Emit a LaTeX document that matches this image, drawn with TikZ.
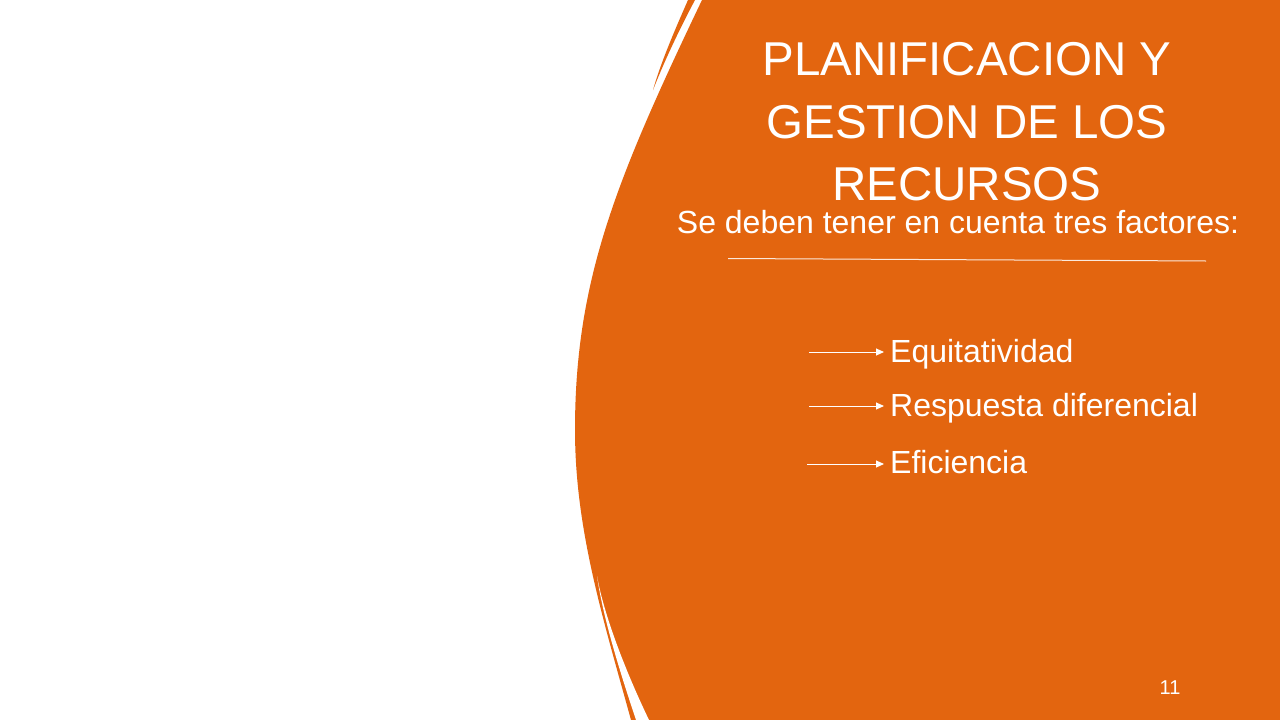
\documentclass[tikz,border=0pt]{standalone}
\usepackage{fontspec}
\setmainfont{Liberation Sans}
\usetikzlibrary{arrows.meta}
\definecolor{slideorange}{RGB}{227,101,15}
\tikzset{
  title/.style={text=white, font=\fontsize{47.5}{50}\selectfont, anchor=base, inner sep=0pt},
  subtitle/.style={text=white, font=\fontsize{32}{36}\selectfont, anchor=base, inner sep=0pt},
  item/.style={text=white, font=\fontsize{32}{36}\selectfont, anchor=base west, inner sep=0pt},
  pagenum/.style={text=white, font=\fontsize{20}{24}\selectfont, anchor=base, inner sep=0pt},
  itemarrow/.style={draw=white, line width=1pt, -{Triangle[length=8pt,width=7pt]}},
}
\begin{document}
\begin{tikzpicture}[x=1pt,y=-1pt]
\useasboundingbox (0,0) rectangle (1280,720);
\fill[white] (0,0) rectangle (1280,720);
% main orange shape
\fill[slideorange] (702,0) .. controls (616,180) and (575,280) .. (575,430)
  .. controls (575,530) and (603.5,620) .. (631,720) -- (1280,720) -- (1280,0) -- cycle;
% white cut near the bottom
\fill[white] (597,576) .. controls (604,615) and (625,670) .. (649,720) -- (636,720)
  .. controls (620,672) and (603,618) .. (597,576) -- cycle;
% top sliver
\fill[slideorange] (688,0) .. controls (674,32) and (661,62) .. (653,90) .. controls (664,62) and (679,30) .. (695,0) -- cycle;
% title
\node[title] (t1) at (967,75) {PLANIFICACION Y};
\node[title] (t2) at (967,138) {GESTION DE LOS};
\node[title] (t3) at (967,200) {RECURSOS};
\node[subtitle] (sub) at (958,233) {Se deben tener en cuenta tres factores:};
% separator
\coordinate (la) at (728,258.5);
\coordinate (lb) at (1206,261);
\draw[white!85!slideorange, line width=1pt] (la) -- (lb);
% items
\node[item] (e1) at (890,362) {Equitatividad};
\node[item] (e2) at (890,416) {Respuesta diferencial};
\node[item] (e3) at (890,473) {Eficiencia};
\coordinate (s1) at (809,352);
\coordinate (s2) at (809,406);
\coordinate (s3) at (807,464);
\draw[itemarrow] (s1) -- ([xshift=-6pt]e1.west |- s1);
\draw[itemarrow] (s2) -- ([xshift=-6pt]e2.west |- s2);
\draw[itemarrow] (s3) -- ([xshift=-6pt]e3.west |- s3);
% page number
\node[pagenum] (pn) at (1170,694) {11};
\end{tikzpicture}
\end{document}
